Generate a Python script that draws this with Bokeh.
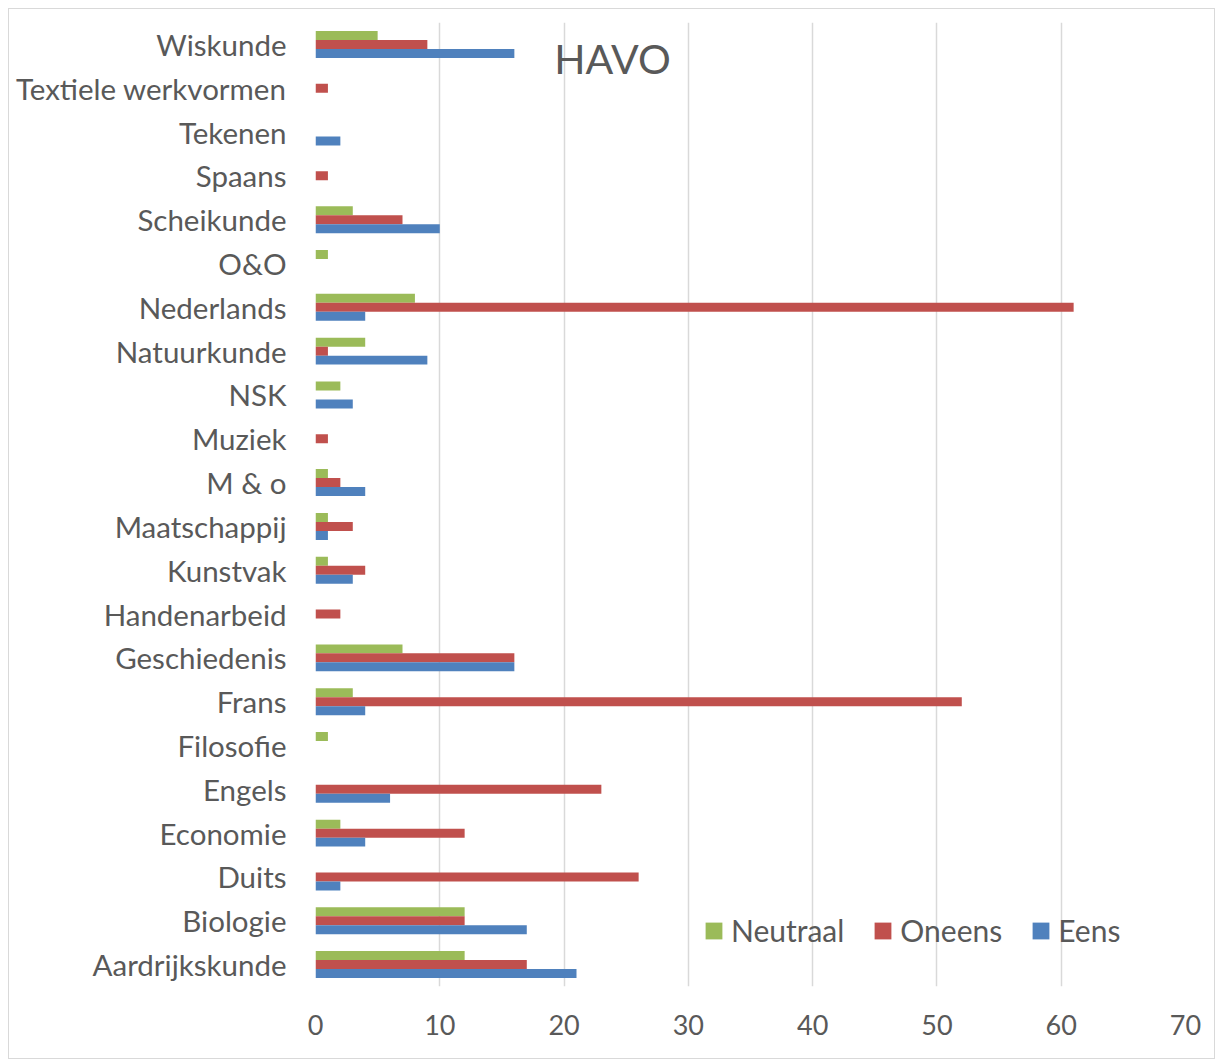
from bokeh.plotting import figure
from bokeh.models import FactorRange, Range1d, Legend, LegendItem, Label, SingleIntervalTicker, ColumnDataSource
from bokeh.transform import dodge
from bokeh.embed import file_html
from bokeh.resources import INLINE

subjects = ["Aardrijkskunde", "Biologie", "Duits", "Economie", "Engels", "Filosofie",
            "Frans", "Geschiedenis", "Handenarbeid", "Kunstvak", "Maatschappij", "M & o",
            "Muziek", "NSK", "Natuurkunde", "Nederlands", "O&O", "Scheikunde", "Spaans",
            "Tekenen", "Textiele werkvormen", "Wiskunde"]
neutraal = [12, 12, 0, 2, 0, 1, 3, 7, 0, 1, 1, 1, 0, 2, 4, 8, 1, 3, 0, 0, 0, 5]
oneens   = [17, 12, 26, 12, 23, 0, 52, 16, 2, 4, 3, 2, 1, 0, 1, 61, 0, 7, 1, 0, 1, 9]
eens     = [21, 17, 2, 4, 6, 0, 4, 16, 0, 3, 1, 4, 0, 3, 9, 4, 0, 10, 0, 2, 0, 16]
series_names = ["Neutraal", "Oneens", "Eens"]
title_text = "HAVO"

colors = {"Neutraal": "#9BBB59", "Oneens": "#C0504D", "Eens": "#4F81BD"}
FONT = "Lato"
TXT = "#595959"

src = ColumnDataSource(dict(cat=subjects, Neutraal=neutraal, Oneens=oneens, Eens=eens))

p = figure(width=1207, height=1051, output_backend="svg", toolbar_location=None,
           y_range=FactorRange(factors=subjects), x_range=Range1d(0, 70),
           min_border_left=306, min_border_right=31, min_border_top=13, min_border_bottom=74)
p.styles = {"border": "1px solid #d9d9d9", "box-sizing": "border-box",
            "margin-left": "8px", "margin-top": "8px"}
p.outline_line_color = None

offsets = {"Neutraal": 0.205, "Oneens": 0.0, "Eens": -0.205}
renderers = {}
for s in series_names:
    renderers[s] = p.hbar(y=dodge("cat", offsets[s], range=p.y_range), right=s, left=0,
                          height=0.205, source=src, fill_color=colors[s], line_color=None)

p.xaxis.ticker = SingleIntervalTicker(interval=10)
p.xgrid.grid_line_color = "#d9d9d9"
p.xgrid.grid_line_width = 1.5
p.ygrid.grid_line_color = None
for ax in (p.xaxis[0], p.yaxis[0]):
    ax.axis_line_color = None
    ax.major_tick_line_color = None
    ax.minor_tick_line_color = None
    ax.major_tick_out = 0
    ax.minor_tick_out = 0
    ax.major_label_text_font = FONT
    ax.major_label_text_color = TXT
p.xaxis.major_label_text_font_size = "27px"
p.yaxis.major_label_text_font_size = "29.5px"
p.xaxis.major_label_standoff = 28
p.yaxis.major_label_standoff = 29

p.add_layout(Label(x=23.9, y=21.17, text=title_text, text_font=FONT, text_font_size="41px",
                   text_color=TXT, text_align="center", text_baseline="middle"))

legend = Legend(items=[LegendItem(label=s, renderers=[renderers[s]]) for s in series_names],
                orientation="horizontal", location=(388, 38),
                background_fill_alpha=0, border_line_color=None,
                glyph_width=21, glyph_height=21, label_standoff=7, spacing=28,
                padding=0, margin=0, label_text_font=FONT, label_text_font_size="30px",
                label_text_color=TXT)
p.add_layout(legend, "center")

open("out.html", "w").write(file_html(p, INLINE))
